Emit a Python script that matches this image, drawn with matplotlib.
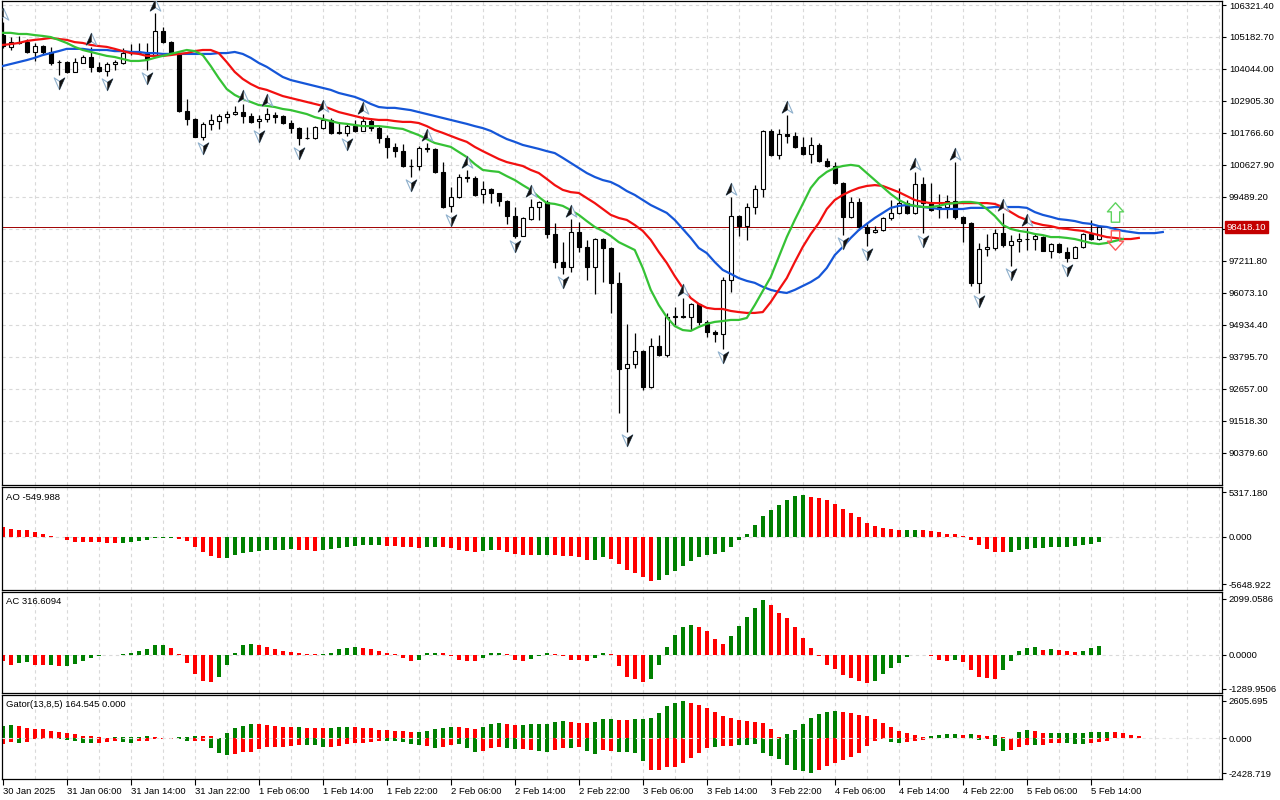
import numpy as np
import matplotlib
matplotlib.use("Agg")
import matplotlib.pyplot as plt
import matplotlib.transforms as mtransforms
from matplotlib.path import Path

plt.rcParams['font.family'] = ['Liberation Sans', 'DejaVu Sans']

# ---- data: BTC H1 bars, 30 Jan 22:00 .. 5 Feb 15:00 ----
opens = [105250, 104830, 105000, 105000, 104650, 104860, 104650, 104290, 104290, 103940,
         104260, 104470, 104120, 103970, 104220, 104260, 104610, 104600, 104610, 104540,
         105400, 105000, 104580, 102550, 102260, 101630, 102090, 102190, 102340, 102440,
         102510, 102370, 102190, 102260, 102410, 102370, 102120, 101940, 101590, 101580,
         101940, 102230, 101800, 101760, 102010, 101840, 102190, 101940, 101590, 101270,
         101120, 100590, 100580, 101230, 101200, 100380, 99170, 99490, 100200, 100160,
         99590, 99770, 99630, 99340, 98810, 98100, 98700, 99130, 99310, 98170,
         97170, 97000, 98240, 97710, 97000, 97990, 97670, 96430, 93400, 93540,
         94000, 92720, 94180, 93860, 95220, 95250, 95220, 95680, 95040, 94680,
         94610, 96530, 98810, 98450, 99130, 99770, 101840, 100980, 101730, 101660,
         101270, 101020, 101340, 100770, 100590, 99990, 98780, 99310, 98420, 98240,
         98310, 98740, 98920, 99270, 98920, 99950, 99270, 99060, 99130, 99340,
         98780, 98560, 96430, 97640, 97670, 98200, 97780, 97920, 97990, 97980,
         98060, 97570, 97820, 97530, 97320, 97710, 98170, 97990]
highs = [105720, 105180, 105220, 105110, 104970, 104900, 104830, 104360, 104330, 104440,
         104540, 104830, 104290, 104290, 104360, 104790, 104930, 104970, 104970, 106040,
         105540, 105040, 104600, 102980, 102300, 102160, 102440, 102440, 102550, 102730,
         102800, 102480, 102410, 102660, 102510, 102410, 102230, 101980, 101980, 102010,
         102440, 102300, 102120, 102120, 102230, 102370, 102300, 102010, 101690, 101410,
         101370, 100840, 101300, 101410, 101230, 100730, 99840, 100310, 100450, 100230,
         100060, 99810, 99640, 99380, 99130, 98780, 99420, 99340, 99380, 98560,
         97890, 98700, 98600, 97960, 98030, 98030, 97710, 96820, 94970, 94650,
         94040, 94470, 94570, 95360, 95570, 95890, 95710, 95710, 95110, 94750,
         96640, 99490, 98850, 99270, 99910, 101870, 101910, 101910, 102410, 101800,
         101630, 101630, 101410, 100880, 100730, 100020, 99490, 99450, 98600, 98450,
         98780, 99380, 99810, 99380, 100380, 100200, 99990, 99590, 99560, 100730,
         98810, 98600, 97850, 98170, 98350, 98920, 98130, 98200, 98380, 98200,
         98100, 97850, 97850, 97710, 97740, 98200, 98670, 98440]
lows = [104790, 104720, 104930, 104610, 104330, 104540, 104190, 103830, 103900, 103920,
        104250, 103940, 103930, 103790, 104010, 104220, 104540, 104580, 104010, 104470,
        104970, 104540, 102510, 102050, 101620, 101520, 101870, 101910, 102120, 102410,
        102120, 102120, 101940, 102160, 102120, 102090, 101770, 101340, 101550, 101550,
        101910, 101730, 101730, 101660, 101800, 101830, 101830, 101410, 100880, 100910,
        100560, 100200, 100450, 101090, 100340, 99100, 98950, 99450, 100020, 99520,
        99270, 99270, 99170, 98530, 98030, 98090, 98670, 98670, 98030, 96960,
        96750, 96820, 97530, 96530, 96030, 96460, 95360, 91800, 91120, 93400,
        92620, 92690, 93830, 93790, 94930, 95180, 94750, 94930, 94500, 94320,
        94080, 96100, 98100, 97960, 98880, 99490, 100950, 100840, 101410, 101230,
        100980, 100700, 100730, 100560, 99950, 98130, 98740, 98310, 97740, 98200,
        98280, 98670, 98880, 98880, 98880, 98200, 98990, 98740, 98740, 98700,
        97880, 96320, 96060, 97390, 97600, 97710, 97030, 97530, 97600, 97600,
        97560, 97320, 97490, 97170, 97310, 97670, 97960, 97960]
closes = [104860, 105000, 104970, 104650, 104860, 104650, 104260, 104280, 103940, 104290,
          104470, 104120, 103970, 104220, 104290, 104610, 104600, 104610, 104400, 105400,
          105000, 104580, 102550, 102260, 101630, 102090, 102230, 102370, 102440, 102510,
          102370, 102160, 102260, 102440, 102340, 102120, 101940, 101590, 101580, 101980,
          102230, 101770, 101760, 102010, 101840, 102190, 101940, 101590, 101270, 101120,
          100590, 100580, 101230, 101200, 100380, 99130, 99490, 100200, 100160, 99560,
          99770, 99630, 99340, 98810, 98100, 98740, 99130, 99310, 98170, 97170,
          97000, 98240, 97710, 97000, 97990, 97670, 96430, 93360, 93540, 94000,
          92720, 94180, 93860, 95220, 95250, 95220, 95680, 95040, 94680, 94610,
          96530, 98810, 98450, 99130, 99770, 101840, 100980, 101730, 101660, 101270,
          101020, 101340, 100770, 100590, 99990, 98780, 99310, 98420, 98200, 98310,
          98740, 98920, 99270, 98920, 99950, 99270, 99020, 99130, 99340, 98780,
          98560, 96430, 97640, 97710, 98200, 97780, 97920, 97990, 97980, 98100,
          97570, 97820, 97530, 97320, 97710, 98170, 97990, 98418.1]

# Alligator (shifted forward: jaw 8, teeth 5, lips 3)
jaw = [104150, 104220, 104290, 104360, 104440, 104540, 104610, 104680, 104760, 104760,
       104760, 104720, 104720, 104720, 104680, 104680, 104650, 104650, 104610, 104610,
       104580, 104580, 104580, 104580, 104580, 104580, 104580, 104610, 104610, 104650,
       104580, 104440, 104260, 104120, 103940, 103760, 103650, 103580, 103510, 103440,
       103370, 103300, 103190, 103120, 103050, 102940, 102800, 102690, 102660, 102660,
       102620, 102580, 102510, 102440, 102370, 102300, 102230, 102160, 102090, 102010,
       101940, 101840, 101690, 101550, 101450, 101340, 101270, 101200, 101120, 101050,
       100880, 100700, 100520, 100340, 100200, 100090, 100020, 99880, 99700, 99560,
       99380, 99200, 99060, 98920, 98670, 98350, 98030, 97670, 97490, 97170,
       96890, 96750, 96600, 96500, 96430, 96290, 96180, 96110, 96070, 96180,
       96320, 96460, 96640, 96960, 97420, 97710, 98030, 98310, 98530, 98740,
       98920, 99100, 99170, 99200, 99170, 99130, 99100, 99060, 99060, 99060,
       99060, 99100, 99100, 99100, 99130, 99130, 99130, 99130, 99100, 98950,
       98850, 98780, 98700, 98670, 98630, 98560, 98530, 98450, 98420, 98350,
       98280, 98240, 98200, 98200, 98200, 98240]
teeth = [104900, 104930, 104970, 105040, 105080, 105110, 105150, 105110, 105080, 105000,
         104970, 104900, 104860, 104830, 104760, 104680, 104610, 104580, 104510, 104510,
         104510, 104540, 104580, 104610, 104680, 104720, 104720, 104610, 104290, 103940,
         103690, 103510, 103370, 103300, 103190, 103080, 103010, 102940, 102870, 102800,
         102730, 102620, 102510, 102440, 102370, 102300, 102260, 102230, 102230, 102190,
         102160, 102160, 102120, 102010, 101870, 101770, 101660, 101550, 101450, 101270,
         101120, 100980, 100840, 100730, 100660, 100590, 100450, 100340, 100130, 99910,
         99740, 99660, 99630, 99450, 99270, 99060, 98850, 98740, 98670, 98490,
         98280, 97960, 97530, 97140, 96670, 96250, 95890, 95680, 95540, 95500,
         95500, 95430, 95390, 95360, 95360, 95390, 95750, 96180, 96600, 97170,
         97710, 98170, 98560, 99060, 99380, 99560, 99700, 99810, 99880, 99910,
         99880, 99770, 99660, 99520, 99380, 99310, 99270, 99270, 99270, 99270,
         99270, 99270, 99270, 99270, 99240, 99130, 98950, 98780, 98670, 98560,
         98490, 98450, 98380, 98350, 98310, 98280, 98200, 98130, 98060, 98030,
         97990, 97990, 98030]
lips = [105330, 105330, 105290, 105290, 105250, 105220, 105180, 105080, 104970, 104830,
        104720, 104650, 104580, 104510, 104470, 104400, 104330, 104330, 104360, 104440,
        104510, 104580, 104650, 104720, 104680, 104540, 104150, 103720, 103330, 103120,
        102980, 102870, 102760, 102730, 102690, 102620, 102580, 102510, 102440, 102330,
        102260, 102190, 102120, 102090, 102050, 102010, 102010, 102010, 101980, 101940,
        101910, 101800, 101690, 101550, 101410, 101340, 101270, 101090, 100910, 100660,
        100450, 100410, 100380, 100230, 100090, 99910, 99740, 99490, 99270, 99240,
        99170, 99020, 98850, 98630, 98420, 98280, 98100, 97880, 97740, 97600,
        96960, 96180, 95640, 95210, 94890, 94750, 94720, 94860, 94970, 95040,
        95070, 95110, 95110, 95180, 95640, 96140, 96640, 97350, 98060, 98670,
        99240, 99810, 100160, 100380, 100520, 100590, 100630, 100590, 100340, 100090,
        99840, 99590, 99380, 99240, 99170, 99130, 99130, 99170, 99240, 99270,
        99310, 99310, 99270, 99060, 98810, 98490, 98350, 98280, 98240, 98170,
        98130, 98060, 98060, 98030, 97990, 97920, 97850, 97810, 97850, 97920,
        97990]

fractal_up = [0, 11, 19, 30, 33, 40, 45, 53, 58, 66, 71, 85, 91, 98, 114, 119, 125, 128]
fractal_dn = [7, 13, 18, 25, 32, 37, 43, 51, 56, 64, 70, 78, 90, 105, 108, 115, 122, 126, 133]

signal_bar = 139
signal_buy = 98970
signal_sell = 97950

ao = [1190, 990, 870, 790, 600, 320, 80, -40, -400, -560,
      -600, -610, -640, -710, -720, -700, -600, -480, -320, -80,
      -70, -60, -200, -480, -1190, -1790, -2300, -2500, -2490, -2150,
      -1910, -1790, -1670, -1590, -1580, -1570, -1470, -1590, -1600, -1610,
      -1590, -1430, -1270, -1190, -1030, -950, -945, -935, -1030, -1110,
      -1150, -1230, -1310, -1240, -1230, -1250, -1310, -1510, -1710, -1830,
      -1710, -1590, -1600, -1830, -1990, -2100, -2110, -2100, -2090, -2110,
      -2220, -2300, -2420, -2700, -2690, -2420, -2580, -3180, -3890, -4290,
      -4810, -5210, -5090, -4490, -4010, -3420, -2820, -2340, -2110, -1990,
      -1830, -1230, -400, 400, 1470, 2540, 3260, 3850, 4450, 4930,
      4990, 4770, 4650, 4370, 3970, 3380, 2900, 2380, 1670, 1310,
      1070, 990, 870, 880, 890, 870, 760, 600, 400, 390,
      160, -400, -910, -1390, -1830, -1840, -1820, -1590, -1430, -1350,
      -1340, -1230, -1150, -1140, -1110, -990, -800, -549.988]
ao_colors = ("RRRRRRRRRR" "RRRRRGGGGG" "GGRRRRRRGG" "GGGGGGGRRR" "GGGGGGGGRR"
             "RRRGGRRRRR" "GGRRRRRGGR" "RRRRGGRRRR" "RRGGGGGGGG" "GGGGGGGGGG"
             "GRRRRRRRRR" "RRRGGRRRRR" "RRRRRRGGGG" "GGGGGGGG")

ac = [-250, -380, -310, -290, -380, -400, -395, -440, -435, -350,
      -250, -130, -60, -20, -10, 5, 60, 150, 190, 340,
      345, 230, 10, -310, -750, -1000, -1040, -850, -400, 40,
      340, 380, 340, 280, 190, 150, 110, 40, 10, 5,
      15, 60, 190, 230, 280, 230, 190, 150, 60, 5,
      -140, -250, -210, 40, 60, 40, -60, -190, -250, -260,
      -130, 40, 75, 10, -190, -250, -160, -60, 40, 10,
      -60, -190, -195, -250, -130, 40, 15, -440, -850, -940,
      -1040, -940, -380, 300, 720, 1050, 1130, 1050, 900, 570,
      380, 680, 1090, 1430, 1770, 2050, 1880, 1580, 1390, 1050,
      630, 230, -50, -400, -540, -780, -890, -1000, -1080, -1000,
      -730, -520, -330, -90, -25, -30, -60, -190, -250, -210,
      -290, -590, -830, -890, -930, -590, -250, 120, 260, 270,
      180, 190, 185, 150, 110, 150, 260, 316.6094]
ac_colors = ("RRGGRRGRGG" "GGGGGGGGGG" "GRRRRRRGGG" "GGRRRRRRRR" "GGGGGRRRRR"
             "RRGGGRRRRR" "GGGRRRGGGR" "RRRRGGRRRR" "RGGGGGGRRR" "RGGGGGRRRR"
             "RRRRRRRRRG" "GGGGGRRRRG" "RRRRRGGGGG" "RGRRRGGG")

gator_up = [880, 920, 850, 740, 650, 640, 510, 420, 350, 280,
            190, 160, 70, 45, 60, 70, 75, 80, 160, 70,
            25, 10, 60, 70, 160, 140, 130, 30, 390, 690,
            880, 970, 960, 920, 855, 810, 800, 810, 740, 735,
            730, 740, 800, 815, 805, 690, 685, 580, 575, 530,
            500, 420, 440, 510, 650, 715, 785, 780, 715, 650,
            785, 990, 1060, 990, 925, 930, 970, 990, 1000, 1130,
            1200, 1130, 1065, 1060, 1130, 1340, 1345, 1270, 1265, 1340,
            1345, 1430, 1760, 2240, 2450, 2600, 2450, 2310, 2120, 1830,
            1570, 1430, 1270, 1200, 1155, 1085, 650, 90, 320, 580,
            990, 1430, 1690, 1850, 1890, 1825, 1755, 1620, 1550, 1320,
            1040, 760, 510, 350, 230, 115, 160, 230, 300, 305,
            230, 300, 230, 185, 230, 70, 25, 415, 580, 510,
            350, 355, 360, 370, 380, 390, 415, 420, 425, 410,
            350, 230, 164.545]
gator_up_colors = ("GGRRRRRRRR" "RRRRGGGGGR" "RRGGGRRRGG" "GGRRRRRGRR" "RGGGRRRRRR"
                   "RRGGGGGRRR" "GGGRRGGGGG" "GRRRGGGRRG" "GGGGGGRRRR" "RRRRRRRRGG"
                   "GGGGGRRRRR" "RRRRRRGGGG" "RGRRGRRGGR" "RGGGGGGGGR" "RRR")
gator_dn = [-420, -290, -300, -230, -70, -20, -20, -70, -115, -160,
            -300, -305, -300, -230, -160, -230, -300, -185, -160, -70,
            -25, -20, -70, -185, -180, -160, -650, -990, -1155, -1085,
            -925, -920, -760, -580, -575, -570, -510, -460, -470, -475,
            -580, -570, -510, -395, -345, -300, -230, -185, -190, -195,
            -231, -393, -462, -508, -670, -578, -439, -370, -670, -924,
            -855, -670, -600, -670, -740, -740, -808, -855, -924, -808,
            -670, -670, -600, -878, -1063, -808, -855, -970, -970, -1016,
            -1570, -2195, -2195, -1987, -1990, -1710, -1360, -990, -690, -580,
            -510, -510, -460, -460, -415, -990, -1200, -1430, -1850, -2195,
            -2265, -2428.719, -2195, -1920, -1690, -1500, -1295, -990, -510, -160,
            -70, -230, -350, -280, -185, -90, -45, -10, -5, -5,
            -5, -70, -115, -45, -510, -855, -810, -580, -460, -465,
            -460, -350, -340, -350, -370, -390, -350, -230, -185]
gator_dn_colors = ("RRGRRRRGGG" "GGRRRGGRRR" "RRGGRRGGGR" "RRRRRRRRGG" "GRRRRRRRGG"
                   "GGGRGRRGGG" "RRRGGRRGGR" "RGRGGRRGGG" "GRRRRRRRRG" "RRGGGGGGGG"
                   "GGRRRRRRRR" "RGGRRRRRRR" "RGGRGGRRRG" "RRRGGGRRR")

time_labels = ["30 Jan 2025", "31 Jan 06:00", "31 Jan 14:00", "31 Jan 22:00", "1 Feb 06:00",
               "1 Feb 14:00", "1 Feb 22:00", "2 Feb 06:00", "2 Feb 14:00", "2 Feb 22:00",
               "3 Feb 06:00", "3 Feb 14:00", "3 Feb 22:00", "4 Feb 06:00", "4 Feb 14:00",
               "4 Feb 22:00", "5 Feb 06:00", "5 Feb 14:00"]
price_ticks = [106321.40, 105182.70, 104044.00, 102905.30, 101766.60, 100627.90, 99489.20,
               98350.50, 97211.80, 96073.10, 94934.40, 93795.70, 92657.00, 91518.30, 90379.60]
ao_ticks = [5317.180, 0.0, -5648.922]
ac_ticks = [2099.0586, 0.0, -1289.9506]
gator_ticks = [2605.695, 0.0, -2428.719]

# ---- style ----
GREEN, RED = '#008000', '#ff0000'
GRID = '#d9d9d9'
FS = 6.8
cmap = {'G': GREEN, 'R': RED}

fig = plt.figure(figsize=(12.8, 8), dpi=100)
L, W = 0.0018, 0.9529
ax = fig.add_axes([L, 0.39375, W, 0.605])
ax_ao = fig.add_axes([L, 0.2625, W, 0.12875])
ax_ac = fig.add_axes([L, 0.13375, W, 0.12625])
ax_g = fig.add_axes([L, 0.02625, W, 0.105])
axes = [ax, ax_ao, ax_ac, ax_g]
xmax = 152.4

for a in axes:
    a.set_xlim(-0.05, xmax)
    for s in a.spines.values():
        s.set_linewidth(0.9)
    for b in range(4, int(xmax) + 1, 4):
        a.axvline(b, color=GRID, lw=0.8, ls=(0, (3, 3)), zorder=0)
    a.yaxis.tick_right()
    a.tick_params(axis='y', direction='out', length=3, width=0.8, pad=2, labelsize=FS)
    a.tick_params(axis='x', bottom=False, labelbottom=False)

# ---- main chart ----
o, h, l, c = map(np.array, (opens, highs, lows, closes))
x = np.arange(len(c))
for p in price_ticks:
    ax.axhline(p, color=GRID, lw=0.8, ls=(0, (3, 3)), zorder=0)
ax.axhline(c[-1], color='#a00000', lw=0.7, zorder=1)
ax.vlines(x, l, h, color='black', lw=0.9, zorder=2)
bull = c >= o
body_lo = np.minimum(o, c)
body_h = np.maximum(np.abs(c - o), 6)
ax.bar(x, body_h, 0.52, bottom=body_lo, color=np.where(bull, 'white', 'black'),
       edgecolor='black', linewidth=0.8, zorder=3)

ax.plot(np.arange(len(jaw)), jaw, color='#1556d8', lw=1.6, zorder=4)
ax.plot(np.arange(len(teeth)), teeth, color='#f21010', lw=1.6, zorder=4)
ax.plot(np.arange(len(lips)), lips, color='#35c235', lw=1.6, zorder=4)

# fractal glyphs: arrowhead, one half dark, the other outlined
CL = [Path.MOVETO, Path.LINETO, Path.LINETO, Path.CLOSEPOLY]
head_up = Path([(0, 1), (0.85, -0.9), (0, -0.35), (-0.85, -0.9), (0, 1)],
               [Path.MOVETO, Path.LINETO, Path.LINETO, Path.LINETO, Path.CLOSEPOLY])
half_up = Path([(0, 1), (0, -0.35), (-0.85, -0.9), (0, 1)], CL)
head_dn = Path([(0, -1), (0.85, 0.9), (0, 0.35), (-0.85, 0.9), (0, -1)],
               [Path.MOVETO, Path.LINETO, Path.LINETO, Path.LINETO, Path.CLOSEPOLY])
half_dn = Path([(0, -1), (0, 0.35), (0.85, 0.9), (0, -1)], CL)
tr_up = mtransforms.offset_copy(ax.transData, fig=fig, y=6.0, units='points')
tr_dn = mtransforms.offset_copy(ax.transData, fig=fig, y=-5.8, units='points')
for idx, vals, tr, full, half in ((fractal_up, h, tr_up, head_up, half_up),
                                  (fractal_dn, l, tr_dn, head_dn, half_dn)):
    ax.plot(idx, vals[idx], ls='none', marker=full, ms=9, mfc='white', mec='#8fb0cc',
            mew=0.8, transform=tr, zorder=5)
    ax.plot(idx, vals[idx], ls='none', marker=half, ms=9, mfc='#111111', mec='#111111',
            mew=0.3, transform=tr, zorder=6)

big_up = Path([(0, 1), (0.83, 0.07), (0.43, 0.07), (0.43, -1), (-0.43, -1), (-0.43, 0.07),
               (-0.83, 0.07), (0, 1)],
              [Path.MOVETO] + [Path.LINETO] * 6 + [Path.CLOSEPOLY])
big_dn = Path([(0, -1), (0.83, -0.07), (0.43, -0.07), (0.43, 1), (-0.43, 1), (-0.43, -0.07),
               (-0.83, -0.07), (0, -1)],
              [Path.MOVETO] + [Path.LINETO] * 6 + [Path.CLOSEPOLY])
ax.plot([signal_bar], [signal_buy], marker=big_up, ms=14, mfc='none', mec='#5fd35f', mew=1.0,
        zorder=6)
ax.plot([signal_bar], [signal_sell], marker=big_dn, ms=14, mfc='none', mec='#ff5a5a', mew=1.0,
        zorder=6)

ax.set_ylim(89234, 106464)
ax.set_yticks(price_ticks)
ax.set_yticklabels(['' if abs(p - 98350.5) < 1 else f'{p:.2f}' for p in price_ticks])
ax.annotate(f'{c[-1]:.2f}', xy=(1, c[-1]), xycoords=('axes fraction', 'data'),
            xytext=(3.2, 0), textcoords='offset points', va='center', ha='left',
            color='white', fontsize=FS,
            bbox=dict(boxstyle='square,pad=0.18', fc='#c40000', ec='#c40000'),
            annotation_clip=False)

# ---- indicator panels ----
def hist(a, vals, cols):
    xs = np.arange(len(vals))
    a.bar(xs, vals, 0.5, color=[cmap[k] for k in cols], linewidth=0, zorder=2)

hist(ax_ao, ao, ao_colors)
hist(ax_ac, ac, ac_colors)
hist(ax_g, gator_up, gator_up_colors)
hist(ax_g, gator_dn, gator_dn_colors)
for a in (ax_ao, ax_ac):
    a.axhline(0, color=GRID, lw=0.8, ls=(0, (3, 3)), zorder=1)
ax_g.axhline(0, color='#e4e4e4', lw=0.8, ls=(0, (3, 3)), zorder=3)

ax_ao.set_ylim(-6318, 5960)
ax_ao.set_yticks(ao_ticks)
ax_ao.set_yticklabels([f'{v:.3f}' for v in ao_ticks])
ax_ac.set_ylim(-1451, 2356)
ax_ac.set_yticks(ac_ticks)
ax_ac.set_yticklabels([f'{v:.4f}' for v in ac_ticks])
ax_g.set_ylim(-2820, 3000)
ax_g.set_yticks(gator_ticks)
ax_g.set_yticklabels([f'{v:.3f}' for v in gator_ticks])

ax_ao.text(0.003, 0.90, f'AO {ao[-1]:.3f}', transform=ax_ao.transAxes, fontsize=FS, va='center')
ax_ac.text(0.003, 0.91, f'AC {ac[-1]:.4f}', transform=ax_ac.transAxes, fontsize=FS, va='center')
ax_g.text(0.003, 0.885, f'Gator(13,8,5) {gator_up[-1]:.3f} 0.000', transform=ax_g.transAxes,
          fontsize=FS, va='center')

ax_g.tick_params(axis='x', bottom=True, labelbottom=True, direction='out', length=4,
                 width=0.8, pad=1.5, labelsize=FS)
ax_g.set_xticks(np.arange(len(time_labels)) * 8)
ax_g.set_xticklabels(time_labels, ha='left')

fig.savefig('out.png', dpi=100)
